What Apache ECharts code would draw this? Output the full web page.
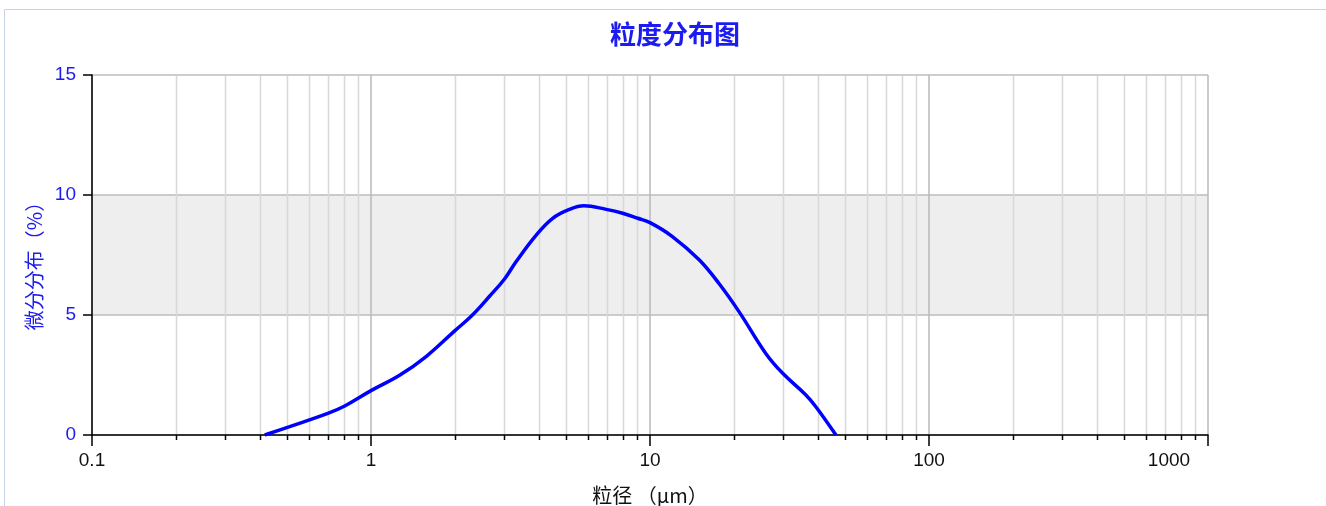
<!DOCTYPE html>
<html>
<head>
<meta charset="utf-8">
<script src="https://cdn.jsdelivr.net/npm/echarts@6/dist/echarts.min.js"></script>
<style>
html,body{margin:0;padding:0;background:#fff;overflow:hidden;}
#c{width:1326px;height:506px;}
</style>
</head>
<body>
<div id="c"></div>
<script>
// particle size (µm)
var sizes = [0.416, 0.511, 0.70, 0.805, 1.0, 1.27, 1.58, 2.0, 2.3, 2.66, 3.01, 3.31, 3.91, 4.48, 5.14, 5.8, 6.97, 7.98, 9.04, 10, 12.0, 15.0, 17.7, 20.9, 26.0, 29.9, 36.2, 39.3, 46.4];
// differential distribution (%)
var diffValues = [0, 0.35, 0.9, 1.21, 1.85, 2.5, 3.28, 4.35, 4.98, 5.78, 6.5, 7.22, 8.33, 9.03, 9.4, 9.55, 9.4, 9.24, 9.03, 8.85, 8.28, 7.3, 6.3, 5.12, 3.4, 2.57, 1.67, 1.18, 0];
// x tick labels (log axis decades)
var xTickLabels = ['0.1', '1', '10', '100', '1000'];
// minor log gridline values
var minorValues = [0.2,0.3,0.4,0.5,0.6,0.7,0.8,0.9, 2,3,4,5,6,7,8,9, 20,30,40,50,60,70,80,90, 200,300,400,500,600,700,800,900];

var chart = echarts.init(document.getElementById('c'));
var lineData = sizes.map(function (s, i) { return [s, diffValues[i]]; });
var minorData = minorValues.map(function (v) { return [v, 0]; });

var option = {
  backgroundColor: '#ffffff',
  animation: false,
  title: {
    text: '粒度分布图',
    left: 670,
    top: 16,
    textAlign: 'center',
    textStyle: { color: '#1c1cf0', fontSize: 26, fontWeight: 'bold', fontFamily: '"Noto Sans CJK SC"' }
  },
  graphic: [{
    type: 'rect',
    shape: { x: 4.5, y: 9.5, width: 1340, height: 520 },
    style: { fill: 'none', stroke: '#c6d4ea', lineWidth: 1 },
    silent: true, z: -10
  }],
  grid: { left: 92, right: 118, top: 75, bottom: 71, containLabel: false, outerBoundsMode: 'none' },
  xAxis: {
    type: 'log',
    logBase: 10,
    min: 0.1,
    max: 1000,
    name: '粒径 （μm）',
    nameLocation: 'middle',
    nameGap: 50,
    nameTextStyle: { color: '#111', fontSize: 20, fontFamily: '"Noto Sans CJK SC"' },
    axisLine: { show: true, onZero: false, lineStyle: { color: '#000', width: 1.5 } },
    axisTick: { show: true, length: 11, lineStyle: { color: '#000', width: 1.5 } },
    axisLabel: {
      color: '#111', fontSize: 19, fontFamily: '"Liberation Sans"', margin: 16,
      formatter: function (v, i) {
        var lbl = xTickLabels[i] !== undefined ? xTickLabels[i] : String(v);
        return i === xTickLabels.length - 1 ? '{m|' + lbl + '}' : lbl;
      },
      rich: { m: { color: '#111', fontSize: 19, fontFamily: '"Liberation Sans"', padding: [0, 78, 0, 0] } }
    },
    splitLine: { show: true, lineStyle: { color: '#b8b8b8', width: 1.5 } }
  },
  yAxis: {
    type: 'value',
    min: 0,
    max: 15,
    interval: 5,
    name: '微分分布（%）',
    nameLocation: 'middle',
    nameRotate: 90,
    nameGap: 48,
    nameTextStyle: { color: '#1c1cf0', fontSize: 20, fontFamily: '"Noto Sans CJK SC"', padding: [0, 12, 0, 0] },
    axisLine: { show: true, lineStyle: { color: '#000', width: 1.5 } },
    axisTick: { show: true, length: 9, lineStyle: { color: '#000', width: 1.5 } },
    axisLabel: { color: '#1c1cf0', fontSize: 19, fontFamily: '"Liberation Sans"', margin: 16 },
    splitLine: { show: true, lineStyle: { color: '#bdbdbd', width: 1.5 } },
    splitArea: { show: true, areaStyle: { color: ['rgba(255,255,255,0)', '#eeeeee'] } }
  },
  series: [{
    type: 'custom',
    name: 'minor',
    silent: true,
    clip: false,
    z: 1,
    data: minorData,
    encode: { x: 0, y: 1 },
    renderItem: function (params, api) {
      var v = api.value(0);
      var top = api.coord([v, 15]);
      var bot = api.coord([v, 0]);
      var x = Math.round(bot[0]) + 0.5;
      return {
        type: 'group',
        children: [
          { type: 'line', shape: { x1: x, y1: top[1] + 1, x2: x, y2: bot[1] - 1 }, style: { stroke: '#d8d8d8', lineWidth: 1.5 } },
          { type: 'line', shape: { x1: x, y1: bot[1], x2: x, y2: bot[1] + 5 }, style: { stroke: '#000', lineWidth: 1.5 } }
        ]
      };
    }
  }, {
    type: 'line',
    name: '微分分布',
    data: lineData,
    smooth: 0.4,
    showSymbol: false,
    symbol: 'none',
    z: 3,
    lineStyle: { color: '#0000ff', width: 3.5 }
  }]
};
chart.setOption(option);
</script>
</body>
</html>
